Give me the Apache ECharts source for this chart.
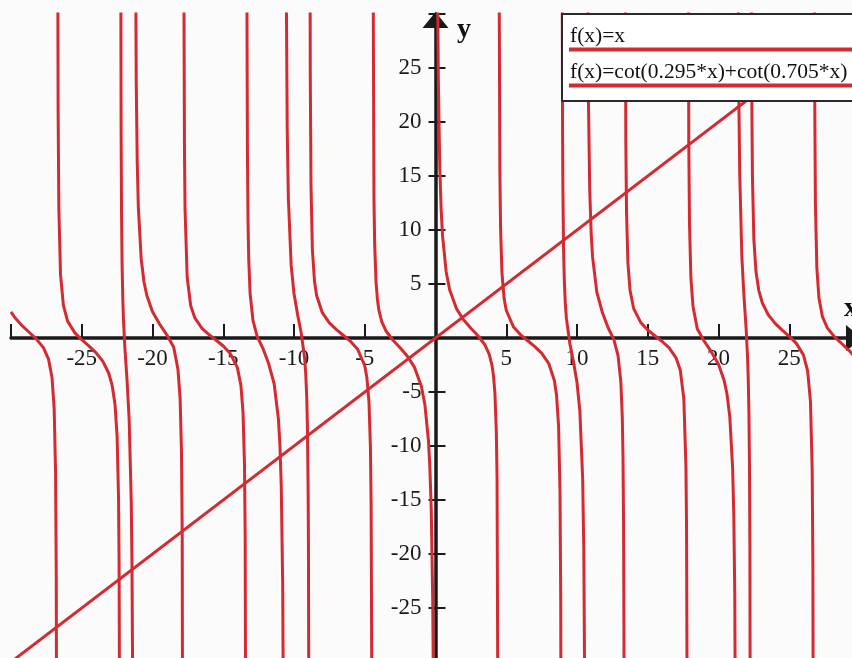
<!DOCTYPE html>
<html>
<head>
<meta charset="utf-8">
<script src="https://cdn.jsdelivr.net/npm/echarts@6/dist/echarts.min.js"></script>
<style>
  html, body { margin: 0; padding: 0; background: #fbfbfb; }
  #main { width: 852px; height: 658px; }
</style>
</head>
<body>
<div id="main"></div>
<script>
// f(x)=x
const lineX = [-30, 30];
const lineY = [-30, 30];

// f(x)=cot(0.295*x)+cot(0.705*x), one array per branch
const cotNeg = [
  [[-30,2.41],[-29.7,1.85],[-29.2,1.12],[-28.7,0.51],[-28.2,-0.10],[-27.7,-0.91],[-27.35,-1.95],[-27.1,-3.68],[-26.95,-6.51],[-26.85,-12.46],[-26.8,-22.44],[-26.77,-42.89]],
  [[-26.7,38.39],[-26.67,21.18],[-26.62,12.10],[-26.5,5.89],[-26.3,3.05],[-26,1.56],[-25.5,0.50],[-25,-0.16],[-24.5,-0.73],[-24,-1.35],[-23.5,-2.18],[-23.1,-3.24],[-22.85,-4.39],[-22.65,-6.13],[-22.5,-9.12],[-22.4,-14.84],[-22.36,-20.98],[-22.32,-39.39]],
  [[-22.25,42.6],[-22.22,19.73],[-22.19,11.88],[-22.15,6.92],[-22.1,3.65],[-22.05,1.65],[-21.95,-0.93],[-21.8,-3.88],[-21.65,-7.52],[-21.5,-15.21],[-21.45,-20.91],[-21.4,-32.13],[-21.35,-65.05]],
  [[-21.22,44.0],[-21.15,23.77],[-21.08,16.35],[-21,12.10],[-20.8,7.33],[-20.6,5.19],[-20.4,3.93],[-20,2.44],[-19.5,1.29],[-19,0.32],[-18.5,-0.86],[-18.2,-2.92],[-18.05,-5.54],[-17.95,-10.64],[-17.9,-18.17],[-17.85,-55.30]],
  [[-17.78,32.36],[-17.74,17.31],[-17.7,11.96],[-17.55,5.62],[-17.3,2.99],[-17,1.83],[-16.5,0.90],[-16,0.30],[-15.5,-0.21],[-15,-0.74],[-14.5,-1.44],[-14,-2.75],[-13.75,-4.40],[-13.6,-6.92],[-13.5,-11.65],[-13.45,-18.30],[-13.4,-45.95]],
  [[-13.345,59.4],[-13.32,28.25],[-13.29,17.04],[-13.25,10.91],[-13.2,7.31],[-13.1,4.09],[-12.9,1.64],[-12.6,0.12],[-12.2,-0.95],[-11.8,-2.33],[-11.4,-4.26],[-11.1,-7.51],[-11,-9.74],[-10.9,-13.68],[-10.8,-22.75],[-10.75,-33.99],[-10.7,-67.38]],
  [[-10.55,33.63],[-10.48,19.49],[-10.4,12.99],[-10.2,6.72],[-10,4.12],[-9.75,2.19],[-9.5,0.56],[-9.25,-1.84],[-9.17,-3.30],[-9.1,-5.48],[-9.05,-8.31],[-9,-14.27],[-8.98,-19.08],[-8.95,-35.80]],
  [[-8.88,45.6],[-8.85,24.45],[-8.8,14.25],[-8.7,8.17],[-8.55,5.23],[-8.4,3.93],[-8,2.34],[-7.5,1.40],[-7,0.77],[-6.5,0.23],[-6,-0.32],[-5.5,-1.05],[-5,-2.57],[-4.85,-3.65],[-4.7,-5.95],[-4.6,-10.04],[-4.55,-15.33],[-4.5,-32.59]],
  [[-4.42,38.95],[-4.35,13.04],[-4.3,8.74],[-4.2,5.13],[-4.1,3.52],[-4,2.59],[-3.8,1.52],[-3.5,0.65],[-3,-0.21],[-2.5,-0.91],[-2,-1.66],[-1.5,-2.67],[-1,-4.47],[-0.75,-6.16],[-0.5,-9.45],[-0.4,-11.89],[-0.3,-15.93],[-0.2,-23.97],[-0.15,-32.0],[-0.1,-48.05]]
];

const cotPos = [
  [[0.1,48.05],[0.15,32.0],[0.2,23.97],[0.3,15.93],[0.4,11.89],[0.5,9.45],[0.75,6.16],[1,4.47],[1.5,2.67],[2,1.66],[2.5,0.91],[3,0.21],[3.5,-0.65],[3.8,-1.52],[4,-2.59],[4.1,-3.52],[4.2,-5.13],[4.3,-8.74],[4.35,-13.04],[4.42,-38.95]],
  [[4.5,32.59],[4.55,15.33],[4.6,10.04],[4.7,5.95],[4.85,3.65],[5,2.57],[5.5,1.05],[6,0.32],[6.5,-0.23],[7,-0.77],[7.5,-1.40],[8,-2.34],[8.4,-3.93],[8.55,-5.23],[8.7,-8.17],[8.8,-14.25],[8.85,-24.45],[8.88,-45.6]],
  [[8.95,35.80],[8.98,19.08],[9,14.27],[9.05,8.31],[9.1,5.48],[9.17,3.30],[9.25,1.84],[9.5,-0.56],[9.75,-2.19],[10,-4.12],[10.2,-6.72],[10.4,-12.99],[10.48,-19.49],[10.55,-33.63]],
  [[10.7,67.38],[10.75,33.99],[10.8,22.75],[10.9,13.68],[11,9.74],[11.1,7.51],[11.4,4.26],[11.8,2.33],[12.2,0.95],[12.6,-0.12],[12.9,-1.64],[13.1,-4.09],[13.2,-7.31],[13.25,-10.91],[13.29,-17.04],[13.32,-28.25],[13.345,-59.4]],
  [[13.4,45.95],[13.45,18.30],[13.5,11.65],[13.6,6.92],[13.75,4.40],[14,2.75],[14.5,1.44],[15,0.74],[15.5,0.21],[16,-0.30],[16.5,-0.90],[17,-1.83],[17.3,-2.99],[17.55,-5.62],[17.7,-11.96],[17.74,-17.31],[17.78,-32.36]],
  [[17.85,55.30],[17.9,18.17],[17.95,10.64],[18.05,5.54],[18.2,2.92],[18.5,0.86],[19,-0.32],[19.5,-1.29],[20,-2.44],[20.4,-3.93],[20.6,-5.19],[20.8,-7.33],[21,-12.10],[21.08,-16.35],[21.15,-23.77],[21.22,-44.0]],
  [[21.35,65.05],[21.4,32.13],[21.45,20.91],[21.5,15.21],[21.65,7.52],[21.8,3.88],[21.95,0.93],[22.05,-1.65],[22.1,-3.65],[22.15,-6.92],[22.19,-11.88],[22.22,-19.73],[22.25,-42.6]],
  [[22.32,39.39],[22.36,20.98],[22.4,14.84],[22.5,9.12],[22.65,6.13],[22.85,4.39],[23.1,3.24],[23.5,2.18],[24,1.35],[24.5,0.73],[25,0.16],[25.5,-0.50],[26,-1.56],[26.3,-3.05],[26.5,-5.89],[26.62,-12.10],[26.67,-21.18],[26.7,-38.39]],
  [[26.77,42.89],[26.8,22.44],[26.85,12.46],[26.95,6.51],[27.1,3.68],[27.35,1.95],[27.7,0.91],[28.2,0.10],[28.7,-0.51],[29.2,-1.12],[29.7,-1.85],[30,-2.41]]
];

// tick labels drawn on the axes
const xTickLabels = [-25, -20, -15, -10, -5, 5, 10, 15, 20, 25];
const yTickLabels = [-25, -20, -15, -10, -5, 5, 10, 15, 20, 25];

const red = '#d42a32';
const ink = '#1a1a1a';
const serif = 'Liberation Serif';

var myChart = echarts.init(document.getElementById('main'));

const series = [{
  name: 'f(x)=x',
  type: 'line',
  data: lineX.map((x, i) => [x, lineY[i]]),
  symbol: 'none',
  clip: true,
  z: 3,
  lineStyle: { color: red, width: 3 }
}];
cotNeg.concat(cotPos).forEach(branch => {
  series.push({
    name: 'f(x)=cot(0.295*x)+cot(0.705*x)',
    type: 'line',
    data: branch,
    symbol: 'none',
    clip: true,
    z: 3,
    lineStyle: { color: red, width: 3 }
  });
});

// grid: x -30..30 over 849px from left 11, y -30..30 over 648px from top 14
// axes are shifted from the grid edges onto the zero lines with offset
var option = {
  backgroundColor: '#fbfbfb',
  animation: false,
  grid: { left: 11, right: -8, top: 14, bottom: -4, containLabel: false, outerBoundsMode: 'none' },
  xAxis: {
    type: 'value',
    min: -30, max: 30, interval: 5,
    position: 'bottom',
    offset: -324,
    axisLine: { onZero: false, symbol: ['none', 'triangle'], symbolSize: [26, 16], symbolOffset: [0, -6],
                lineStyle: { color: ink, width: 3.5 } },
    axisTick: { inside: true, length: 14, lineStyle: { color: ink, width: 2 } },
    axisLabel: {
      show: true, fontFamily: serif, fontSize: 23, color: ink, margin: 9,
      formatter: function (v) { return xTickLabels.indexOf(v) >= 0 ? v + '' : ''; }
    },
    splitLine: { show: false }
  },
  yAxis: [{
    type: 'value',
    min: -30, max: 30, interval: 5,
    position: 'left',
    offset: -424.5,
    axisLine: { onZero: false, symbol: ['none', 'triangle'], symbolSize: [26, 16], symbolOffset: [0, -6],
                lineStyle: { color: ink, width: 3.5 } },
    axisTick: { inside: true, length: 10, lineStyle: { color: ink, width: 2 } },
    axisLabel: {
      show: true, fontFamily: serif, fontSize: 23, color: ink, margin: 14,
      formatter: function (v) { return yTickLabels.indexOf(v) >= 0 ? v + '' : ''; }
    },
    splitLine: { show: false }
  }, {
    // left half of the y ticks
    type: 'value',
    min: -30, max: 30, interval: 5,
    position: 'left',
    offset: -424.5,
    axisLine: { show: false, onZero: false },
    axisTick: { inside: false, length: 7, lineStyle: { color: ink, width: 2 } },
    axisLabel: { show: false },
    splitLine: { show: false }
  }],
  graphic: [
    { type: 'text', z: 50, x: 457, y: 30, style: { text: 'y', font: 'bold 28px "Liberation Serif"', fill: '#111', verticalAlign: 'middle' } },
    { type: 'text', z: 50, x: 844, y: 309, style: { text: 'x', font: 'bold 28px "Liberation Serif"', fill: '#111', verticalAlign: 'middle' } },
    { type: 'rect', z: 100, shape: { x: 562, y: 14, width: 320, height: 87 },
      style: { fill: '#ffffff', stroke: '#2a2a2a', lineWidth: 2 } },
    { type: 'text', z: 101, x: 570, y: 25, style: { text: 'f(x)=x', font: '21.5px "Liberation Serif"', fill: '#111' } },
    { type: 'line', z: 101, shape: { x1: 569, y1: 49.5, x2: 870, y2: 49.5 }, style: { stroke: red, lineWidth: 4 } },
    { type: 'text', z: 101, x: 570, y: 61, style: { text: 'f(x)=cot(0.295*x)+cot(0.705*x)', font: '21.5px "Liberation Serif"', fill: '#111' } },
    { type: 'line', z: 101, shape: { x1: 569, y1: 85.5, x2: 870, y2: 85.5 }, style: { stroke: red, lineWidth: 4 } }
  ],
  series: series
};
myChart.setOption(option);
</script>
</body>
</html>
